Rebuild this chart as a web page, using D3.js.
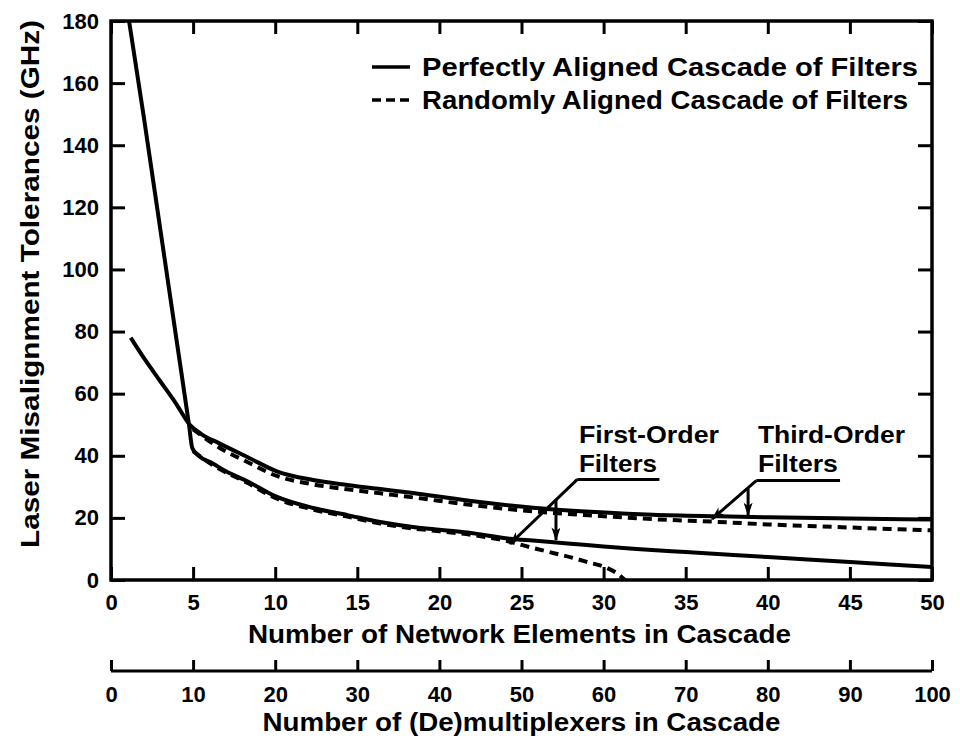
<!DOCTYPE html>
<html>
<head>
<meta charset="utf-8">
<script src="https://cdn.jsdelivr.net/npm/d3@7"></script>
<style>
body { margin: 0; background: #fff; }
text { font-family: "Liberation Sans", Arial, Helvetica, sans-serif; font-weight: bold; fill: #000; }
</style>
</head>
<body>
<svg id="chart" width="960" height="747"></svg>
<script>
// tick values
var elemTicks = d3.range(0, 51, 5);
var gigaTicks = d3.range(0, 181, 20);
var muxTicks = d3.range(0, 101, 10);

// first-order filters, perfectly aligned (solid)
var firstPerfectN = [1.1, 2.0, 3.0, 4.0, 4.75, 4.95, 5.3, 6.2, 7, 8.3, 10, 12.3, 14.4, 16.4, 18.4, 20, 21.7, 24.3, 25.7, 28, 30, 32, 35, 40, 45, 50];
var firstPerfectG = [180, 149, 113, 77, 50, 42.5, 40.2, 37.5, 35, 31.8, 27, 23.2, 20.9, 18.7, 17.1, 16.2, 15.3, 13.3, 12.7, 11.7, 10.8, 10, 9, 7.4, 5.8, 4.2];

// first-order filters, randomly aligned (dashed)
var firstRandomN = [5, 6.2, 8.3, 10, 12.3, 14.4, 16.4, 18.4, 20, 22, 24.3, 25.5, 26.7, 28, 29, 30.2, 30.8, 31.3];
var firstRandomG = [41.5, 37, 31.3, 26.4, 22.7, 20.4, 18.2, 16.6, 15.7, 14.5, 12.3, 10.6, 9.0, 7.3, 5.8, 3.9, 2.2, 0];

// third-order filters, perfectly aligned (solid)
var thirdPerfectN = [1.2, 2, 3, 4, 4.8, 5.5, 6.6, 8.3, 10.1, 12.3, 14.4, 16.4, 18.4, 21.7, 25.7, 29.8, 33, 37, 40, 45, 50];
var thirdPerfectG = [78, 71.5, 64, 56.5, 50, 47, 44, 39.6, 35, 32.2, 30.6, 29.3, 28, 25.6, 23.3, 21.8, 21, 20.5, 20.2, 19.8, 19.5];

// third-order filters, randomly aligned (dashed)
var thirdRandomN = [5, 6.6, 8.3, 10.1, 12.3, 14.4, 16.4, 18.4, 21.7, 25.7, 29.8, 33, 37, 40, 45, 50];
var thirdRandomG = [48.5, 42.6, 38, 33.5, 30.8, 29.2, 27.9, 26.6, 24.3, 22.1, 20.6, 19.6, 18.7, 17.9, 16.9, 16];

var legendLabels = ["Perfectly Aligned Cascade of Filters", "Randomly Aligned Cascade of Filters"];

var svg = d3.select('#chart');

var x = d3.scaleLinear().domain([0, 50]).range([111, 932]);
var x2 = d3.scaleLinear().domain([0, 100]).range([111, 932]);
var y = d3.scaleLinear().domain([0, 180]).range([580, 21]);

var defs = svg.append('defs');
defs.append('clipPath').attr('id', 'plot')
  .append('rect')
  .attr('x', x(0)).attr('y', y(180))
  .attr('width', x(50) - x(0)).attr('height', y(0) - y(180));
defs.append('marker')
  .attr('id', 'head')
  .attr('viewBox', '0 0 12 8')
  .attr('refX', 11).attr('refY', 4)
  .attr('markerWidth', 14).attr('markerHeight', 9)
  .attr('markerUnits', 'userSpaceOnUse')
  .attr('orient', 'auto')
  .append('path')
  .attr('d', 'M0,0 L12,4 L0,8 L3,4 Z')
  .attr('fill', '#000');

function styleAxis(g) {
  g.select('.domain').remove();
  g.selectAll('.tick line').attr('stroke', '#000').attr('stroke-width', 3);
  g.selectAll('.tick text').style('font-size', '22px');
}

// axes
svg.append('g')
  .attr('transform', 'translate(' + x(0) + ',0)')
  .call(d3.axisLeft(y).tickValues(gigaTicks).tickSize(-14).tickPadding(12))
  .call(styleAxis);
svg.append('g')
  .attr('transform', 'translate(' + x(50) + ',0)')
  .call(d3.axisRight(y).tickValues(gigaTicks).tickSize(-14).tickFormat(''))
  .call(styleAxis);
svg.append('g')
  .attr('transform', 'translate(0,' + y(180) + ')')
  .call(d3.axisTop(x).tickValues(elemTicks).tickSize(-13).tickFormat(''))
  .call(styleAxis);
svg.append('g')
  .attr('transform', 'translate(0,' + y(0) + ')')
  .call(d3.axisBottom(x).tickValues(elemTicks).tickSize(-13).tickPadding(14))
  .call(styleAxis);

svg.append('rect')
  .attr('x', x(0)).attr('y', y(180))
  .attr('width', x(50) - x(0)).attr('height', y(0) - y(180))
  .attr('fill', 'none').attr('stroke', '#000').attr('stroke-width', 3.5);

// second (multiplexer) axis
var muxY = 671;
var muxAxis = svg.append('g')
  .attr('transform', 'translate(0,' + muxY + ')')
  .call(d3.axisBottom(x2).tickValues(muxTicks).tickSize(-11).tickPadding(15))
  .call(styleAxis);
muxAxis.append('line')
  .attr('x1', x2(0)).attr('x2', x2(100))
  .attr('stroke', '#000').attr('stroke-width', 3);

// axis titles
svg.append('text')
  .attr('x', (x(0) + x(50)) / 2 - 2).attr('y', 643)
  .attr('text-anchor', 'middle')
  .attr('textLength', 543).attr('lengthAdjust', 'spacingAndGlyphs')
  .style('font-size', '25px')
  .text('Number of Network Elements in Cascade');
svg.append('text')
  .attr('x', (x(0) + x(50)) / 2).attr('y', 731)
  .attr('text-anchor', 'middle')
  .attr('textLength', 518).attr('lengthAdjust', 'spacingAndGlyphs')
  .style('font-size', '25px')
  .text('Number of (De)multiplexers in Cascade');
svg.append('text')
  .attr('transform', 'translate(39,284) rotate(-90)')
  .attr('text-anchor', 'middle')
  .attr('textLength', 528).attr('lengthAdjust', 'spacingAndGlyphs')
  .style('font-size', '25px')
  .text('Laser Misalignment Tolerances (GHz)');

// curves
var line = d3.line()
  .x(function(d) { return x(d[0]); })
  .y(function(d) { return y(d[1]); })
  .curve(d3.curveMonotoneX);

var curves = [
  { n: firstPerfectN, g: firstPerfectG, dash: null },
  { n: thirdPerfectN, g: thirdPerfectG, dash: null },
  { n: firstRandomN, g: firstRandomG, dash: '9,6' },
  { n: thirdRandomN, g: thirdRandomG, dash: '9,6' }
];

var plot = svg.append('g').attr('clip-path', 'url(#plot)');
curves.forEach(function(c) {
  plot.append('path')
    .datum(d3.zip(c.n, c.g))
    .attr('d', line)
    .attr('fill', 'none')
    .attr('stroke', '#000')
    .attr('stroke-width', 4)
    .attr('stroke-linejoin', 'round')
    .attr('stroke-dasharray', c.dash);
});

// legend
var legend = svg.append('g');
legendLabels.forEach(function(label, i) {
  var ly = 67 + i * 33;
  legend.append('line')
    .attr('x1', 372).attr('x2', 410)
    .attr('y1', ly).attr('y2', ly)
    .attr('stroke', '#000').attr('stroke-width', 3.5)
    .attr('stroke-dasharray', i ? '9,5' : null);
  legend.append('text')
    .attr('x', 422).attr('y', ly + 9)
    .attr('textLength', i ? 486 : 496).attr('lengthAdjust', 'spacingAndGlyphs')
    .style('font-size', '25px')
    .text(label);
});

// annotations (positions in data units)
var notes = [
  { lines: ['First-Order', 'Filters'], tx: 28.5, w: [140, 78], ux: [28.4, 33.4], ug: 32.4,
    tip: [24.3, 11.6], vx: 27.1, vTop: 25.9, vTip: 12.9 },
  { lines: ['Third-Order', 'Filters'], tx: 39.4, w: [147, 80], ux: [39.3, 44.4], ug: 32.0,
    tip: [36.6, 19.6], vx: 38.8, vTop: 29.5, vTip: 20.9 }
];

notes.forEach(function(nt) {
  var g = svg.append('g');
  nt.lines.forEach(function(t, i) {
    g.append('text')
      .attr('x', x(nt.tx)).attr('y', y(44.1) + i * 29)
      .attr('textLength', nt.w[i]).attr('lengthAdjust', 'spacingAndGlyphs')
      .style('font-size', '24px')
      .text(t);
  });
  g.append('line')
    .attr('x1', x(nt.ux[0])).attr('x2', x(nt.ux[1]))
    .attr('y1', y(nt.ug)).attr('y2', y(nt.ug))
    .attr('stroke', '#000').attr('stroke-width', 3);
  g.append('line')
    .attr('x1', x(nt.ux[0])).attr('y1', y(nt.ug))
    .attr('x2', x(nt.tip[0])).attr('y2', y(nt.tip[1]))
    .attr('stroke', '#000').attr('stroke-width', 3)
    .attr('marker-end', 'url(#head)');
  g.append('line')
    .attr('x1', x(nt.vx)).attr('y1', y(nt.vTop))
    .attr('x2', x(nt.vx)).attr('y2', y(nt.vTip))
    .attr('stroke', '#000').attr('stroke-width', 3)
    .attr('marker-end', 'url(#head)');
});
</script>
</body>
</html>
